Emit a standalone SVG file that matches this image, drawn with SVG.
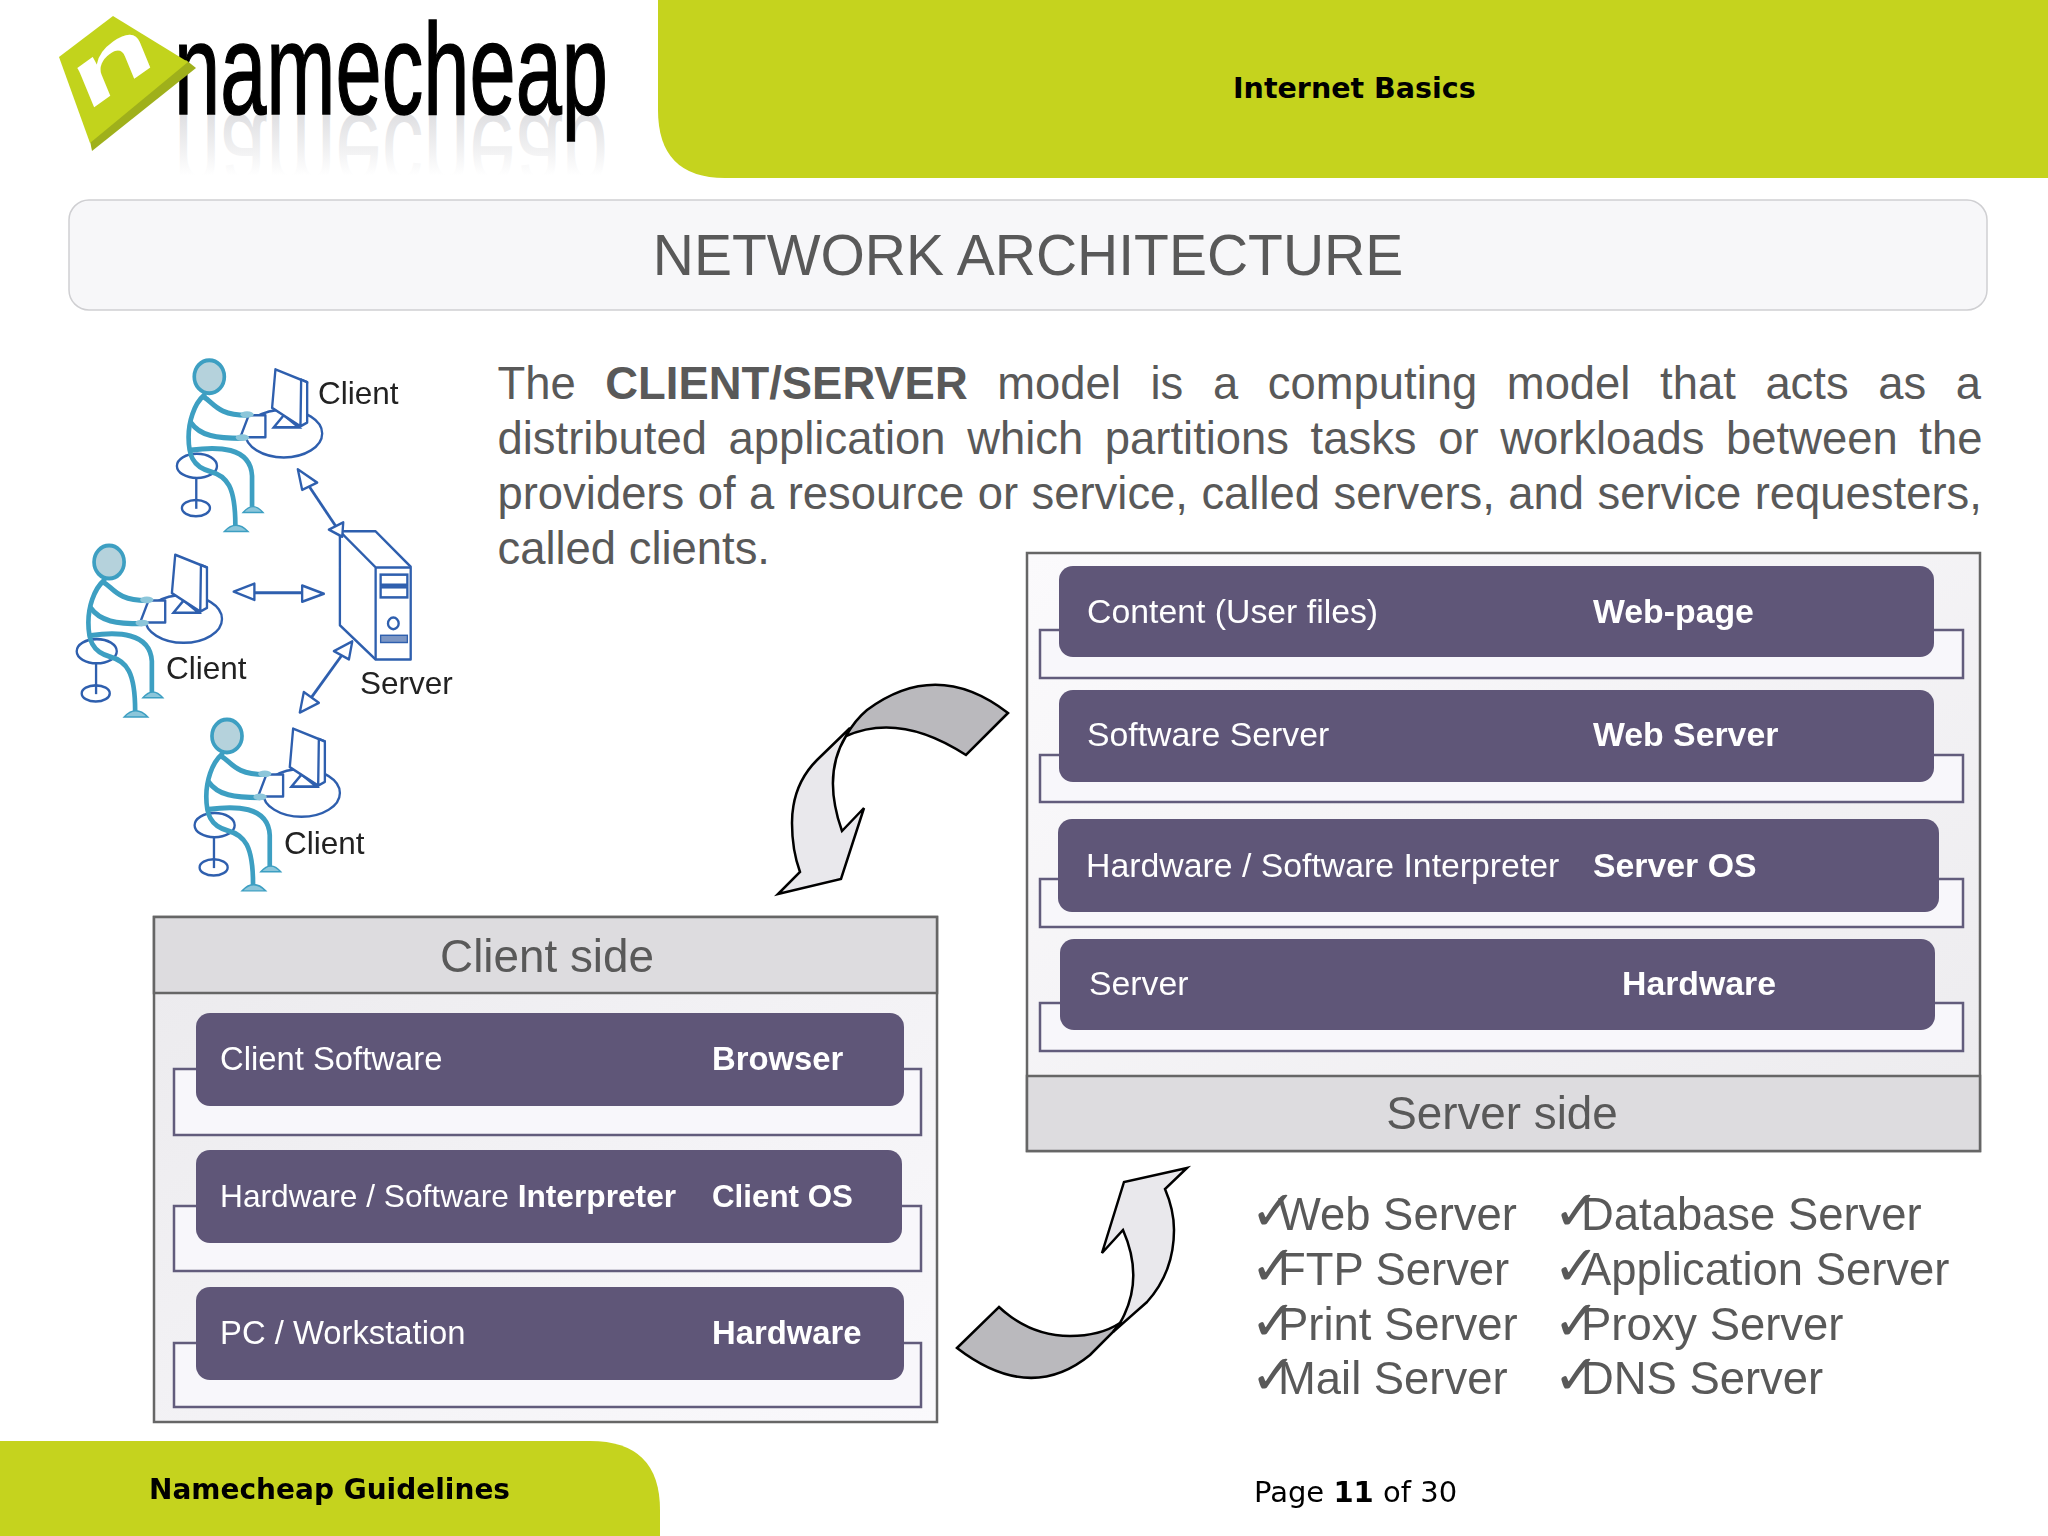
<svg xmlns="http://www.w3.org/2000/svg" width="2048" height="1536" viewBox="0 0 2048 1536">
<style>
text{font-family:"Liberation Sans",Arial,sans-serif}
.g{fill:#c5d31e}
.dv{font-family:"DejaVu Sans",Verdana,sans-serif;fill:#000;font-size:29px}
.b{font-weight:bold}
.body{font-size:45.4px;fill:#595959}
.lab{font-size:45.8px;fill:#595959;text-anchor:middle}
.bar{fill:#5f5678}
.bk{fill:#f8f7fb;stroke:#625c7c;stroke-width:2.5}
.pt{font-size:33.8px;fill:#fff}
.ptc{font-size:32.8px;fill:#fff}
.frame{stroke:#666;stroke-width:2.5}
.hd{fill:#dddcdf}
.ck{font-family:"DejaVu Sans",sans-serif;font-size:56px}
.fig{font-size:31.5px;fill:#222}
.ar1{fill:#bab9bd;stroke:#000;stroke-width:2.5;stroke-linejoin:miter}
.ar2{fill:#e9e8ec;stroke:#000;stroke-width:2.5;stroke-linejoin:miter}
.pc{fill:none;stroke:#3d9fc2;stroke-width:14;stroke-linecap:round;stroke-linejoin:round}
.pd{fill:none;stroke:#2f5fae;stroke-width:7}
.hw{fill:#fff;stroke:#2f5fae;stroke-width:7;stroke-linejoin:round}
.conn{stroke:#2f5fae;stroke-width:8;fill:none}
.head{fill:#fff;stroke:#2f5fae;stroke-width:7;stroke-linejoin:round}
</style>
<defs>
<filter id="soft" x="-5%" y="-5%" width="110%" height="110%"><feGaussianBlur stdDeviation=".6"/></filter>
<linearGradient id="refl" gradientUnits="userSpaceOnUse" x1="0" y1="114" x2="0" y2="52">
<stop offset="0" stop-color="#9a9aa2" stop-opacity=".32"/><stop offset="1" stop-color="#9a9aa2" stop-opacity="0"/>
</linearGradient>
<linearGradient id="bodyg" x1="0" y1="0" x2="1" y2="1"><stop offset="0" stop-color="#fbfafc"/><stop offset="1" stop-color="#ecebee"/></linearGradient>
<linearGradient id="bodyc" x1="0" y1="0" x2="1" y2="1"><stop offset="0" stop-color="#ebeaed"/><stop offset="1" stop-color="#faf9fc"/></linearGradient>
<clipPath id="below"><rect x="150" y="114" width="480" height="70"/></clipPath>
<g id="person">
<ellipse class="pd" cx="670" cy="255" rx="115" ry="65"/>
<ellipse class="pd" cx="410" cy="343" rx="60" ry="33"/>
<path class="pd" d="M408 376V460"/>
<ellipse class="pd" cx="407" cy="458" rx="42" ry="22"/>
<path class="pd" d="M640 238L670 205L715 238Z" fill="#fff"/>
<path class="hw" d="M645 80L740 115L720 235L635 185Z"/>
<path class="hw" d="M722 108L740 115V225L720 235Z"/>
<path class="hw" d="M565 205H615V265H540Z"/>
<path class="pc" d="M432 150C400 175 385 225 385 265C385 310 395 345 450 358C500 370 525 400 525 505"/>
<path class="pc" d="M430 155C460 170 470 205 560 205"/>
<path class="pc" d="M392 225C420 262 470 268 545 268"/>
<path class="pc" d="M392 300C470 290 570 290 575 370V455"/>
<circle cx="447" cy="100" r="45" fill="#b5d2dc" stroke="#3d9fc2" stroke-width="11"/>
<path d="M548 470Q578 438 608 470Z" fill="#8cc6da" stroke="#3d9fc2" stroke-width="4"/>
<path d="M492 522Q527 488 563 522Z" fill="#8cc6da" stroke="#3d9fc2" stroke-width="4"/>
<ellipse cx="560" cy="203" rx="20" ry="9" fill="#8cc6da"/>
<ellipse cx="546" cy="266" rx="20" ry="9" fill="#8cc6da"/>
</g>
</defs>
<rect width="2048" height="1536" fill="#fff"/>

<g id="logo">
<g clip-path="url(#below)"><text transform="matrix(1 0 0 -1 0 228)" x="174" y="114" font-size="130" textLength="434" lengthAdjust="spacingAndGlyphs" fill="url(#refl)">namecheap</text></g>
<text x="174" y="114" font-size="130" textLength="434" lengthAdjust="spacingAndGlyphs" fill="#000" stroke="#000" stroke-width="1.5">namecheap</text>
<path d="M196 68L92 151L90 141L186 60Z" fill="#9fb01b"/>
<path d="M113 16L188 62L90 143L59 57Z" fill="#c2d31c"/>
<text transform="matrix(1.17 -.83 .31 .75 86 113)" font-size="100" font-weight="bold" fill="#fff">n</text>
</g>

<g id="header"><path class="g" d="M658 0V110Q658 178 725 178H2048V0Z"/><text class="dv b" x="1233" y="98" style="font-size:28.5px">Internet Basics</text></g>

<g id="title"><rect x="69" y="200" width="1918" height="110" rx="20" fill="#f7f7f9" stroke="#cfcfd2" stroke-width="1.5"/><text x="1028" y="275" font-size="57" fill="#595959" text-anchor="middle">NETWORK ARCHITECTURE</text></g>

<g id="intro">
<text class="body" x="497.5" y="399" word-spacing="17">The <tspan class="b">CLIENT/SERVER</tspan> model is a computing model that acts as a</text>
<text class="body" x="497.5" y="454" word-spacing="9">distributed application which partitions tasks or workloads between the</text>
<text class="body" x="497.5" y="509" word-spacing=".85">providers of a resource or service, called servers, and service requesters,</text>
<text class="body" x="497.5" y="564">called clients.</text>
</g>

<g id="figure" filter="url(#soft)">
<g id="client-1"><use href="#person" transform="translate(60 340) scale(.334 .367)"/><text class="fig" x="318" y="404">Client</text></g>
<g id="client-2"><use href="#person" transform="translate(60 340) scale(.334 .367) translate(-300 505)"/><text class="fig" x="166" y="679">Client</text></g>
<g id="client-3"><use href="#person" transform="translate(60 340) scale(.334 .367) translate(53 979)"/><text class="fig" x="284" y="854">Client</text></g>
<g id="server" transform="translate(60 340) scale(.334 .361)">
<path class="hw" d="M838 530H945L1050 628V885H945L838 790Z"/>
<path class="hw" d="M838 530L945 630H1050M945 630V885"/>
<rect class="pd" x="960" y="650" width="80" height="28"/>
<rect class="pd" x="960" y="685" width="80" height="28"/>
<circle class="pd" cx="998" cy="785" r="16"/>
<rect x="960" y="818" width="80" height="20" fill="#7c96c4" stroke="#2f5fae" stroke-width="4"/>
</g>
<text class="fig" x="360" y="694">Server</text>
<g id="figure-connectors" transform="translate(60 340) scale(.334 .361)">
<path class="conn" d="M735 390L825 515"/><path class="head" d="M712 358L770 395L725 415Z"/><path class="head" d="M848 505L845 545L805 525Z"/>
<path class="conn" d="M580 700H725"/><path class="head" d="M520 697L582 675V720Z"/><path class="head" d="M790 703L725 680V725Z"/>
<path class="conn" d="M850 865L745 1000"/><path class="head" d="M875 835L865 885L820 862Z"/><path class="head" d="M718 1032L730 975L775 1005Z"/>
</g>
</g>

<g id="client-side">
<rect x="154" y="917" width="783" height="505" fill="url(#bodyc)" class="frame"/>
<rect x="154" y="917" width="783" height="76" class="hd frame"/>
<text class="lab" x="547" y="972">Client side</text>
<g id="client-software"><path class="bk" d="M196 1069H174V1135H921V1069H900"/><rect class="bar" x="196" y="1013" width="708" height="93" rx="14"/><text class="ptc" x="220" y="1070">Client Software</text><text class="ptc b" x="712" y="1070">Browser</text></g>
<g id="client-os"><path class="bk" d="M196 1206H174V1271H921V1206H900"/><rect class="bar" x="196" y="1150" width="706" height="93" rx="14"/><text class="ptc" x="220" y="1207" style="font-size:31.7px">Hardware / Software <tspan class="b">Interpreter</tspan></text><text class="ptc b" x="712" y="1207" style="font-size:31.3px">Client OS</text></g>
<g id="client-hw"><path class="bk" d="M196 1343H174V1407H921V1343H900"/><rect class="bar" x="196" y="1287" width="708" height="93" rx="14"/><text class="ptc" x="220" y="1344">PC / Workstation</text><text class="ptc b" x="712" y="1344">Hardware</text></g>
</g>

<g id="server-side">
<rect x="1027" y="553" width="953" height="598" fill="url(#bodyg)" class="frame"/>
<rect x="1027" y="1076" width="953" height="75" class="hd frame"/>
<text class="lab" x="1502" y="1129">Server side</text>
<g id="server-content"><path class="bk" d="M1059 630H1040V678H1963V630H1934"/><rect class="bar" x="1059" y="566" width="875" height="91" rx="14"/><text class="pt" x="1087" y="623">Content (User files)</text><text class="pt b" x="1593" y="623">Web-page</text></g>
<g id="server-software"><path class="bk" d="M1059 755H1040V802H1963V755H1934"/><rect class="bar" x="1059" y="690" width="875" height="92" rx="14"/><text class="pt" x="1087" y="746">Software Server</text><text class="pt b" x="1593" y="746">Web Server</text></g>
<g id="server-os"><path class="bk" d="M1058 879H1040V927H1963V879H1939"/><rect class="bar" x="1058" y="819" width="881" height="93" rx="14"/><text class="pt" x="1086" y="877">Hardware / Software Interpreter</text><text class="pt b" x="1593" y="877">Server OS</text></g>
<g id="server-hw"><path class="bk" d="M1060 1003H1040V1051H1963V1003H1935"/><rect class="bar" x="1060" y="939" width="875" height="91" rx="14"/><text class="pt" x="1089" y="995">Server</text><text class="pt b" x="1622" y="995">Hardware</text></g>
</g>

<g id="connectors">
<path class="ar1" d="M1008 713Q937 658 867 710Q855 720 846 736Q900 712 966 755Z"/>
<path class="ar2" d="M850 728L817 760Q792 785 792 823Q792 850 800 872L778 894L841 879L864 808L842 831Q822 775 846 736Z"/>
<path class="ar1" d="M957 1348Q1030 1404 1090 1355L1113 1332L1120 1323Q1100 1336 1070 1336Q1030 1336 999 1307Z"/>
<path class="ar2" d="M1187 1168L1124 1182L1102 1253L1123 1230Q1145 1280 1120 1323L1113 1332L1147 1302Q1174 1272 1174 1230Q1174 1210 1165 1189Z"/>
</g>

<g id="server-list" class="body">
<text><tspan class="ck" x="1250" y="1230">✓</tspan><tspan x="1278" y="1230">Web Server</tspan></text>
<text><tspan class="ck" x="1250" y="1285">✓</tspan><tspan x="1278" y="1285">FTP Server</tspan></text>
<text><tspan class="ck" x="1250" y="1340">✓</tspan><tspan x="1278" y="1340">Print Server</tspan></text>
<text><tspan class="ck" x="1250" y="1394">✓</tspan><tspan x="1278" y="1394">Mail Server</tspan></text>
<text><tspan class="ck" x="1553" y="1230">✓</tspan><tspan x="1581" y="1230">Database Server</tspan></text>
<text><tspan class="ck" x="1553" y="1285">✓</tspan><tspan x="1581" y="1285">Application Server</tspan></text>
<text><tspan class="ck" x="1553" y="1340">✓</tspan><tspan x="1581" y="1340">Proxy Server</tspan></text>
<text><tspan class="ck" x="1553" y="1394">✓</tspan><tspan x="1581" y="1394">DNS Server</tspan></text>
</g>

<g id="footer"><path class="g" d="M0 1441H590Q660 1441 660 1510V1536H0Z"/><text class="dv b" x="149" y="1499" style="font-size:28px">Namecheap Guidelines</text><text class="dv" x="1254" y="1502">Page <tspan class="b">11</tspan> of 30</text></g>
</svg>
